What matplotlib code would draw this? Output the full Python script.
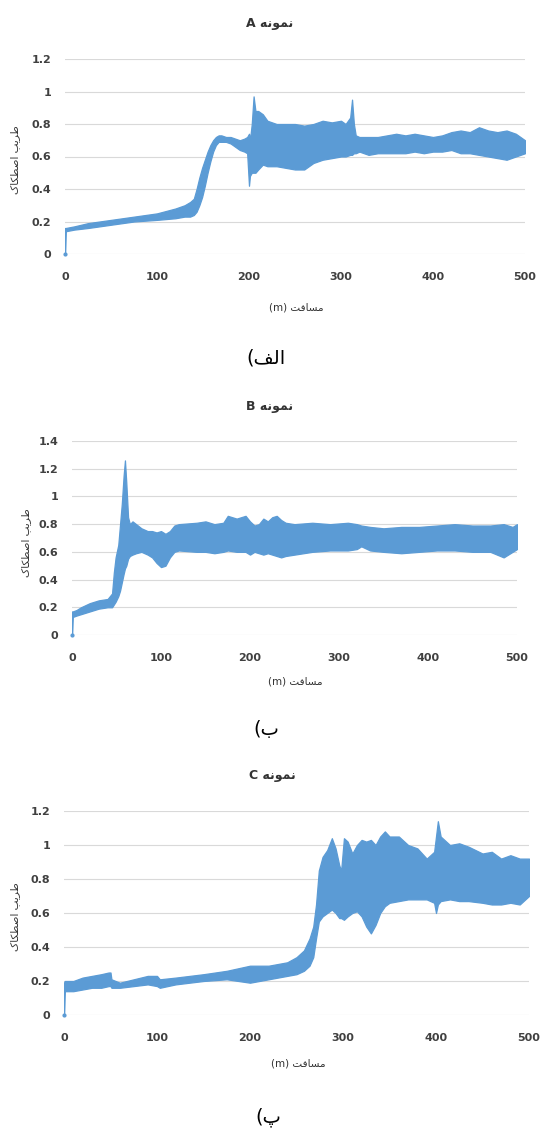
import numpy as np
import matplotlib
matplotlib.use("Agg")
import matplotlib.pyplot as plt

plt.rcParams['font.family'] = ['DejaVu Sans']

# friction band: distance [m], lower and upper edge of the scatter
dist_a = [0, 0.8, 10, 25, 50, 75, 100, 120, 130, 136, 140, 143, 146, 149, 152, 155, 158, 161,
          164, 167, 170, 175, 180, 185, 190, 195, 198, 200, 201, 203, 205, 207, 210, 215, 220,
          230, 240, 250, 260, 270, 280, 290, 300, 305, 310, 312, 314, 316, 320, 330, 340, 350,
          360, 370, 380, 390, 400, 410, 420, 430, 440, 450, 460, 470, 480, 490, 495, 500]
low_a = [0.00, 0.14, 0.15, 0.16, 0.18, 0.20, 0.21, 0.22, 0.23, 0.23, 0.24, 0.26, 0.30, 0.35,
         0.42, 0.50, 0.57, 0.63, 0.67, 0.69, 0.69, 0.69, 0.68, 0.66, 0.64, 0.63, 0.62, 0.42,
         0.48, 0.50, 0.50, 0.50, 0.52, 0.55, 0.54, 0.54, 0.53, 0.52, 0.52, 0.56, 0.58, 0.59,
         0.60, 0.60, 0.61, 0.61, 0.62, 0.62, 0.63, 0.61, 0.62, 0.62, 0.62, 0.62, 0.63, 0.62,
         0.63, 0.63, 0.64, 0.62, 0.62, 0.61, 0.60, 0.59, 0.58, 0.60, 0.61, 0.62]
high_a = [0.16, 0.16, 0.17, 0.19, 0.21, 0.23, 0.25, 0.28, 0.30, 0.32, 0.34, 0.40, 0.47, 0.53,
          0.58, 0.63, 0.67, 0.70, 0.72, 0.73, 0.73, 0.72, 0.72, 0.71, 0.70, 0.71, 0.72, 0.74,
          0.70, 0.80, 0.97, 0.88, 0.88, 0.86, 0.82, 0.80, 0.80, 0.80, 0.79, 0.80, 0.82, 0.81,
          0.82, 0.80, 0.84, 0.95, 0.80, 0.73, 0.72, 0.72, 0.72, 0.73, 0.74, 0.73, 0.74, 0.73,
          0.72, 0.73, 0.75, 0.76, 0.75, 0.78, 0.76, 0.75, 0.76, 0.74, 0.72, 0.70]

dist_b = [0, 0.8, 5, 10, 20, 30, 40, 45, 47, 49, 52, 54, 56, 58, 59.5, 61, 63, 65, 68, 72, 78,
          85, 90, 95, 100, 105, 110, 115, 120, 140, 150, 160, 170, 175, 185, 195, 200, 205, 210,
          215, 220, 225, 230, 235, 240, 250, 270, 290, 310, 320, 325, 335, 350, 370, 390, 410,
          430, 450, 470, 485, 495, 500]
low_b = [0.00, 0.13, 0.14, 0.15, 0.17, 0.19, 0.20, 0.20, 0.22, 0.24, 0.28, 0.32, 0.38, 0.44,
         0.48, 0.50, 0.55, 0.57, 0.58, 0.59, 0.60, 0.58, 0.56, 0.52, 0.49, 0.50, 0.56, 0.60,
         0.61, 0.60, 0.60, 0.59, 0.60, 0.61, 0.60, 0.60, 0.58, 0.60, 0.59, 0.58, 0.59, 0.58,
         0.57, 0.56, 0.57, 0.58, 0.60, 0.61, 0.61, 0.62, 0.64, 0.61, 0.60, 0.59, 0.60, 0.61,
         0.61, 0.60, 0.60, 0.56, 0.60, 0.62]
high_b = [0.17, 0.17, 0.18, 0.20, 0.23, 0.25, 0.26, 0.30, 0.45, 0.56, 0.65, 0.80, 0.95, 1.15,
          1.26, 1.10, 0.85, 0.80, 0.82, 0.80, 0.77, 0.75, 0.75, 0.74, 0.75, 0.73, 0.75, 0.79,
          0.80, 0.81, 0.82, 0.80, 0.81, 0.86, 0.84, 0.86, 0.82, 0.79, 0.80, 0.84, 0.82, 0.85,
          0.86, 0.83, 0.81, 0.80, 0.81, 0.80, 0.81, 0.80, 0.79, 0.78, 0.77, 0.78, 0.78, 0.79,
          0.80, 0.79, 0.79, 0.80, 0.78, 0.80]

dist_c = [0, 0.8, 10, 20, 30, 40, 48, 50, 51, 60, 75, 90, 100, 103, 120, 150, 175, 200, 220,
          240, 250, 258, 264, 268, 271, 274, 278, 283, 288, 292, 296, 298, 301, 305, 310, 315,
          320, 325, 330, 335, 340, 345, 350, 360, 370, 380, 390, 398, 400, 402, 405, 415, 425,
          435, 450, 460, 470, 480, 490, 500]
low_c = [0.00, 0.14, 0.14, 0.15, 0.16, 0.16, 0.17, 0.17, 0.16, 0.16, 0.17, 0.18, 0.17, 0.16,
         0.18, 0.20, 0.21, 0.19, 0.21, 0.23, 0.24, 0.26, 0.29, 0.34, 0.45, 0.55, 0.58, 0.60,
         0.62, 0.60, 0.57, 0.57, 0.56, 0.58, 0.60, 0.61, 0.58, 0.52, 0.48, 0.53, 0.60, 0.64,
         0.66, 0.67, 0.68, 0.68, 0.68, 0.66, 0.60, 0.65, 0.67, 0.68, 0.67, 0.67, 0.66, 0.65,
         0.65, 0.66, 0.65, 0.70]
high_c = [0.19, 0.20, 0.20, 0.22, 0.23, 0.24, 0.25, 0.25, 0.21, 0.19, 0.21, 0.23, 0.23, 0.21,
          0.22, 0.24, 0.26, 0.29, 0.29, 0.31, 0.34, 0.38, 0.45, 0.52, 0.65, 0.85, 0.93, 0.97,
          1.04, 0.98, 0.88, 0.85, 1.04, 1.02, 0.95, 1.00, 1.03, 1.02, 1.03, 1.00, 1.05, 1.08,
          1.05, 1.05, 1.00, 0.98, 0.92, 0.96, 1.05, 1.14, 1.05, 1.00, 1.01, 0.99, 0.95, 0.96,
          0.92, 0.94, 0.92, 0.92]

ymax = [1.2, 1.4, 1.2]
x_ticks = [0, 100, 200, 300, 400, 500]


def vis(*codes):
    # arabic presentation forms, reversed into visual (left to right) order
    return ''.join(chr(c) for c in codes)[::-1]


word_sample = vis(0xFEE7, 0xFEE4, 0xFEEE, 0xFEE7, 0xFEEA)           # نمونه
word_dist = vis(0xFEE3, 0xFEB4, 0xFE8E, 0xFED3, 0xFE96)             # مسافت
word_coef = vis(0xFEC3, 0xFEAE, 0xFEF3, 0xFE90)                     # ضریب
word_fric = vis(0xFE8D, 0xFEBB, 0xFEC4, 0xFB91, 0xFE8E, 0xFB8E)     # اصطکاک

titles = ['A ' + word_sample, 'B ' + word_sample, 'C ' + word_sample]
xlabel = '(m) ' + word_dist
ylabel = word_fric + ' ' + word_coef
captions = ['(' + vis(0xFE8D, 0xFEDF, 0xFED2), '(' + chr(0xFE8F), '(' + chr(0xFB56)]

blue = '#5B9BD5'
tick_col = '#404040'

fig = plt.figure(figsize=(5.42, 11.29), dpi=100)
W, H = 542.0, 1129.0

# plot areas in pixels: left, right, top (ymax), bottom (0)
boxes = [(65, 525, 59, 254), (72, 517, 441, 635), (64, 529, 811, 1015)]
title_xy = [(270, 24), (270, 406), (272, 776)]
ylab_xy = [(15, 160), (26, 543), (15, 917)]
xlab_xy = [(296, 307), (295, 682), (298, 1063)]
cap_xy = [(266, 358), (266, 730), (268, 1117)]

data = [(dist_a, low_a, high_a), (dist_b, low_b, high_b), (dist_c, low_c, high_c)]

for i in range(3):
    l, r, t, b = boxes[i]
    ax = fig.add_axes([l / W, 1 - b / H, (r - l) / W, (b - t) / H])
    d, lo, hi = data[i]
    ax.fill_between(d, lo, hi, color=blue, edgecolor=blue, lw=0.9)
    ax.plot([0], [0], 'o', ms=2, color=blue, clip_on=False)
    ax.set_xlim(0, 500)
    ax.set_ylim(0, ymax[i])
    yt = np.round(np.arange(0, ymax[i] + 0.01, 0.2), 1)
    ax.set_yticks(yt)
    ax.set_yticklabels(['0' if v == 0 else ('1' if v == 1 else f'{v:g}') for v in yt])
    ax.set_xticks(x_ticks)
    ax.grid(axis='y', color='#D9D9D9', lw=0.8)
    ax.set_axisbelow(True)
    for s in ax.spines.values():
        s.set_visible(False)
    ax.tick_params(length=0, labelsize=8, colors=tick_col)
    ax.tick_params(axis='y', pad=10)
    ax.tick_params(axis='x', pad=13)
    for lab in ax.get_xticklabels() + ax.get_yticklabels():
        lab.set_fontweight('bold')

    fig.text(title_xy[i][0] / W, 1 - title_xy[i][1] / H, titles[i], ha='center', va='center',
             fontsize=9, fontweight='bold', color='#333333')
    fig.text(ylab_xy[i][0] / W, 1 - ylab_xy[i][1] / H, ylabel, ha='center', va='center',
             rotation=90, fontsize=7.5, color='#333333')
    fig.text(xlab_xy[i][0] / W, 1 - xlab_xy[i][1] / H, xlabel, ha='center', va='center',
             fontsize=7.5, color='#333333')
    fig.text(cap_xy[i][0] / W, 1 - cap_xy[i][1] / H, captions[i], ha='center', va='center',
             fontsize=14, color='black')

fig.savefig('out.png', dpi=100)
